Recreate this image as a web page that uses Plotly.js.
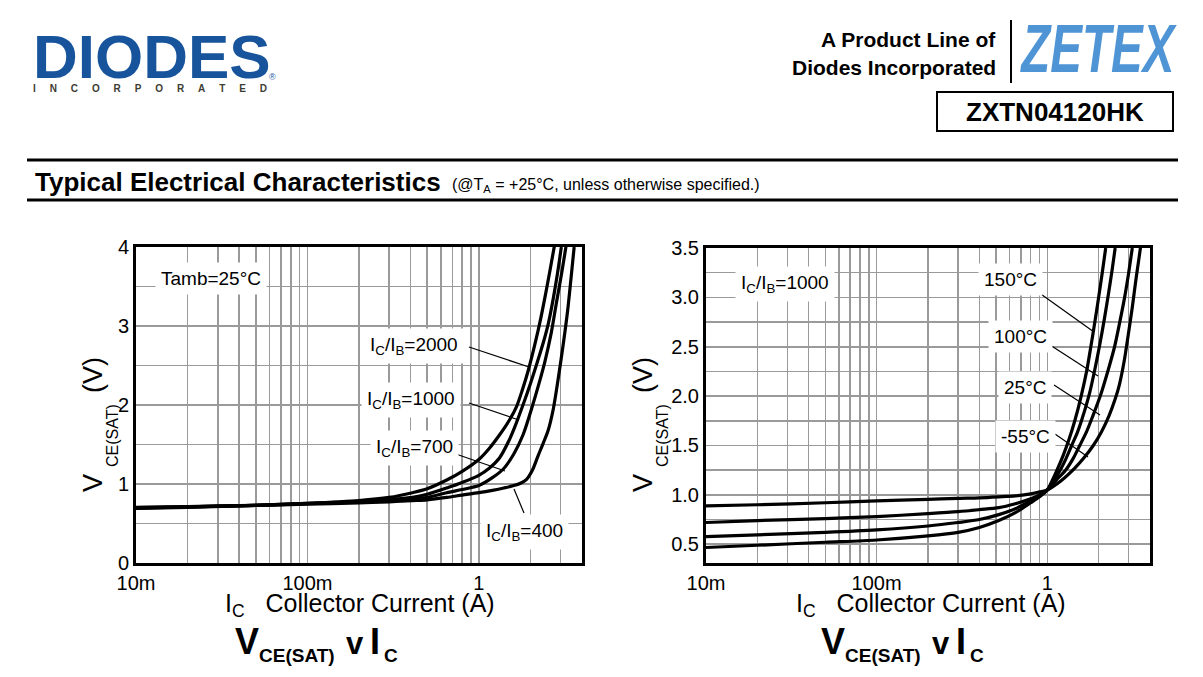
<!DOCTYPE html>
<html>
<head>
<meta charset="utf-8">
<script src="https://cdn.plot.ly/plotly-3.0.1.min.js"></script>
<style>
  html, body { margin: 0; padding: 0; background: #ffffff; }
  #chart { width: 1203px; height: 677px; }
</style>
</head>
<body>
<div id="chart"></div>
<script>
// ---------------- DATA ----------------
// Left chart: VCE(SAT) v IC at Tamb = 25°C for several IC/IB ratios
const ratioNames = ['IC/IB=2000', 'IC/IB=1000', 'IC/IB=700', 'IC/IB=400'];
const icRatio2000 = [0.01, 0.02, 0.05, 0.1, 0.2, 0.3, 0.41, 0.5, 0.65, 0.8, 1.0, 1.15, 1.32, 1.5, 1.66, 1.8, 1.95, 2.12, 2.3, 2.45, 2.6, 2.78];
const vRatio2000  = [0.69, 0.705, 0.73, 0.755, 0.79, 0.83, 0.89, 0.94, 1.05, 1.16, 1.31, 1.45, 1.62, 1.80, 1.98, 2.2, 2.45, 2.76, 3.1, 3.4, 3.7, 4.05];
const icRatio1000 = [0.01, 0.02, 0.05, 0.1, 0.2, 0.3, 0.41, 0.5, 0.65, 0.8, 1.0, 1.15, 1.32, 1.5, 1.62, 1.81, 2.0, 2.2, 2.4, 2.55, 2.72, 2.88, 3.03];
const vRatio1000  = [0.695, 0.71, 0.73, 0.755, 0.78, 0.805, 0.83, 0.87, 0.95, 1.02, 1.11, 1.2, 1.33, 1.55, 1.72, 2.0, 2.27, 2.55, 2.82, 3.04, 3.35, 3.67, 4.0];
const icRatio700  = [0.01, 0.02, 0.05, 0.1, 0.2, 0.3, 0.41, 0.5, 0.65, 0.8, 1.0, 1.2, 1.39, 1.6, 1.81, 2.03, 2.25, 2.43, 2.65, 2.84, 3.05, 3.25];
const vRatio700   = [0.70, 0.71, 0.73, 0.75, 0.77, 0.785, 0.80, 0.83, 0.89, 0.93, 0.98, 1.08, 1.19, 1.38, 1.62, 1.95, 2.28, 2.55, 2.92, 3.3, 3.68, 4.05];
const icRatio400  = [0.01, 0.02, 0.05, 0.1, 0.2, 0.3, 0.41, 0.5, 0.65, 0.8, 1.0, 1.2, 1.4, 1.6, 1.75, 1.9, 2.05, 2.22, 2.38, 2.54, 2.72, 2.9, 3.1, 3.3, 3.45, 3.6];
const vRatio400   = [0.705, 0.715, 0.73, 0.745, 0.76, 0.775, 0.79, 0.80, 0.83, 0.86, 0.89, 0.92, 0.95, 0.98, 1.01, 1.06, 1.17, 1.36, 1.52, 1.68, 1.95, 2.32, 2.75, 3.2, 3.6, 4.0];

// Right chart: VCE(SAT) v IC at IC/IB = 1000 for several temperatures
const tempNames = ['150°C', '100°C', '25°C', '-55°C'];
const icT150 = [0.01, 0.02, 0.05, 0.1, 0.2, 0.3, 0.4, 0.52, 0.65, 0.8, 0.9, 1.0, 1.08, 1.16, 1.24, 1.34, 1.45, 1.58, 1.7, 1.8, 1.9, 2.0, 2.1, 2.2];
const vT150  = [0.467, 0.49, 0.52, 0.543, 0.584, 0.62, 0.67, 0.74, 0.82, 0.92, 0.98, 1.05, 1.16, 1.28, 1.4, 1.56, 1.75, 2.0, 2.25, 2.5, 2.75, 3.0, 3.25, 3.5];
const icT100 = [0.01, 0.02, 0.05, 0.1, 0.2, 0.3, 0.4, 0.52, 0.65, 0.8, 0.9, 1.0, 1.1, 1.19, 1.29, 1.39, 1.5, 1.6, 1.77, 1.9, 2.03, 2.17, 2.3, 2.4, 2.5];
const vT100  = [0.578, 0.595, 0.62, 0.645, 0.685, 0.72, 0.75, 0.80, 0.86, 0.94, 0.99, 1.05, 1.15, 1.25, 1.37, 1.5, 1.63, 1.77, 2.03, 2.27, 2.52, 2.8, 3.07, 3.28, 3.5];
const icT25  = [0.01, 0.02, 0.05, 0.1, 0.2, 0.3, 0.4, 0.52, 0.65, 0.8, 0.9, 1.0, 1.13, 1.28, 1.42, 1.55, 1.7, 1.85, 2.07, 2.28, 2.48, 2.66, 2.84, 3.0, 3.15];
const vT25   = [0.72, 0.74, 0.76, 0.78, 0.81, 0.83, 0.85, 0.87, 0.91, 0.96, 1.0, 1.05, 1.15, 1.25, 1.37, 1.5, 1.64, 1.8, 2.03, 2.27, 2.5, 2.75, 3.0, 3.25, 3.5];
const icTm55 = [0.01, 0.02, 0.05, 0.1, 0.2, 0.3, 0.4, 0.52, 0.65, 0.8, 0.9, 1.0, 1.2, 1.45, 1.65, 1.86, 2.08, 2.3, 2.5, 2.65, 2.82, 2.97, 3.15, 3.32, 3.45, 3.58];
const vTm55  = [0.888, 0.90, 0.92, 0.94, 0.955, 0.965, 0.97, 0.98, 0.99, 1.01, 1.03, 1.05, 1.14, 1.27, 1.38, 1.5, 1.64, 1.8, 1.97, 2.12, 2.35, 2.6, 2.9, 3.2, 3.4, 3.6];

// Axis tick labels and grid values
const xTickVals = [0.01, 0.1, 1];
const xTickText = ['10m', '100m', '1'];
const xMinorGrid = [0.02,0.03,0.04,0.05,0.06,0.07,0.08,0.09,0.2,0.3,0.4,0.5,0.6,0.7,0.8,0.9,2,3];
const yTickLeft = [0, 1, 2, 3, 4];
const yMinorLeft = [0.5, 1.5, 2.5, 3.5];
const yTickRight = [0.5, 1.0, 1.5, 2.0, 2.5, 3.0, 3.5];
const yTextRight = ['0.5', '1.0', '1.5', '2.0', '2.5', '3.0', '3.5'];
const yMinorRight = [0.75, 1.25, 1.75, 2.25, 2.75, 3.25];

// ---------------- LAYOUT HELPERS ----------------
const W = 1203, H = 677;
const px = x => x / W;
const py = y => 1 - y / H;
const FONT = 'Liberation Sans, Arial, Helvetica, sans-serif';
const GRID = '#9a9a9a';

function curve(x, y, xa, ya, name) {
  return { x: x, y: y, xaxis: xa, yaxis: ya, name: name, type: 'scatter', mode: 'lines',
           line: { color: '#000', width: 3.2, shape: 'spline', smoothing: 0.8 }, hoverinfo: 'skip' };
}

const traces = [
  curve(icRatio2000, vRatio2000, 'x', 'y', ratioNames[0]),
  curve(icRatio1000, vRatio1000, 'x', 'y', ratioNames[1]),
  curve(icRatio700,  vRatio700,  'x', 'y', ratioNames[2]),
  curve(icRatio400,  vRatio400,  'x', 'y', ratioNames[3]),
  curve(icT150, vT150, 'x2', 'y2', tempNames[0]),
  curve(icT100, vT100, 'x2', 'y2', tempNames[1]),
  curve(icT25,  vT25,  'x2', 'y2', tempNames[2]),
  curve(icTm55, vTm55, 'x2', 'y2', tempNames[3])
];

function xAxis(domain, anchor) {
  return { type: 'log', domain: domain, anchor: anchor, range: [-2, Math.log10(4)],
           tickmode: 'array', tickvals: xTickVals, ticktext: xTickText,
           minor: { tickmode: 'array', tickvals: xMinorGrid, showgrid: true, gridcolor: GRID, gridwidth: 1.5, ticks: '' },
           showgrid: true, gridcolor: GRID, gridwidth: 1.5, zeroline: false,
           showline: true, linecolor: '#000', linewidth: 3, mirror: true, ticks: '',
           tickfont: { family: FONT, size: 20, color: '#000' }, fixedrange: true };
}
function yAxis(domain, anchor, range, vals, text, minorVals) {
  return { domain: domain, anchor: anchor, range: range,
           tickmode: 'array', tickvals: vals, ticktext: text,
           minor: { tickmode: 'array', tickvals: minorVals, showgrid: true, gridcolor: GRID, gridwidth: 1.5, ticks: '' },
           showgrid: true, gridcolor: GRID, gridwidth: 1.5, zeroline: false,
           showline: true, linecolor: '#000', linewidth: 3, mirror: true, ticks: '',
           tickfont: { family: FONT, size: 20, color: '#000' }, fixedrange: true };
}

function txt(text, x, y, size, opts) {
  return Object.assign({ text: text, xref: 'paper', yref: 'paper', x: px(x), y: py(y),
    showarrow: false, xanchor: 'center', yanchor: 'middle',
    font: { family: FONT, size: size, color: '#000' } }, opts || {});
}
function boxed(text, x, y, size) {
  return txt(text, x - 5, y, size, { xanchor: 'left', bgcolor: '#fff', borderpad: 5 });
}
function seg(x0, y0, x1, y1, w, c) {
  return { type: 'line', xref: 'paper', yref: 'paper', x0: px(x0), y0: py(y0), x1: px(x1), y1: py(y1),
           line: { color: c || '#000', width: w || 1.2 } };
}

const NB = '\u00a0';
const ann = [];
// Header: DIODES logo
ann.push(txt('DIODES', 152, 56, 62, { font: { family: FONT, size: 62, color: '#17549c', weight: 'bold' } }));
ann.push(txt('INCORPORATED'.split('').join(NB.repeat(5)), 150, 89, 10,
  { font: { family: FONT, size: 10, color: '#3d3d33', weight: 'bold' } }));
ann.push(txt('®', 272, 77, 9, { font: { family: FONT, size: 9, color: '#17549c' } }));
// Header right
ann.push(txt('<b>A Product Line of</b>', 998, 39, 21, { xanchor: 'right' }));
ann.push(txt('<b>Diodes Incorporated</b>', 998, 67, 21, { xanchor: 'right' }));
ann.push(txt('<b><i>ZETEX</i></b>', 1098, 48, 68, { name: 'zetex',
  font: { family: FONT, size: 68, color: '#4f95d6' } }));
ann.push(txt('<b>ZXTN04120HK</b>', 1055, 112, 26));
// Section title
ann.push(txt('<b>Typical Electrical Characteristics</b>', 33, 182, 26, { xanchor: 'left' }));
ann.push(txt('(@T<sub>A</sub> = +25°C, unless otherwise specified.)', 450, 185, 16, { xanchor: 'left' }));

// Left chart labels
ann.push(boxed('Tamb=25°C', 160, 278, 19));
ann.push(boxed('I<sub>C</sub>/I<sub>B</sub>=2000', 369, 346, 19));
ann.push(boxed('I<sub>C</sub>/I<sub>B</sub>=1000', 366, 400, 19));
ann.push(boxed('I<sub>C</sub>/I<sub>B</sub>=700', 375, 448, 19));
ann.push(boxed('I<sub>C</sub>/I<sub>B</sub>=400', 485, 532, 19));
// Right chart labels
ann.push(boxed('I<sub>C</sub>/I<sub>B</sub>=1000', 740, 284, 19));
ann.push(boxed('150°C', 983, 279, 19));
ann.push(boxed('100°C', 993, 336, 19));
ann.push(boxed('25°C', 1003, 387, 19));
ann.push(boxed('-55°C', 1000, 436, 19));

// Axis titles (built from pieces for exact sub-script sizing)
function yTitle(xc) {
  ann.push(txt('V', xc, 483, 27, { textangle: -90 }));
  ann.push(txt('CE(SAT)', xc + 19, 436, 16, { textangle: -90 }));
  ann.push(txt('(V)', xc, 375, 27, { textangle: -90 }));
}
yTitle(93);
yTitle(643);
ann.push(txt('I<sub>C</sub>' + NB.repeat(3) + 'Collector Current (A)', 360, 605, 25));
ann.push(txt('I<sub>C</sub>' + NB.repeat(3) + 'Collector Current (A)', 931, 605, 25));
// Captions
function caption(x0) {
  ann.push(txt('<b>V</b>', x0, 641, 36, { xanchor: 'left' }));
  ann.push(txt('<b>CE(SAT)</b>', x0 + 24, 655, 19, { xanchor: 'left' }));
  ann.push(txt('<b>v</b>', x0 + 111, 643, 31, { xanchor: 'left' }));
  ann.push(txt('<b>I</b>', x0 + 135, 641, 36, { xanchor: 'left' }));
  ann.push(txt('<b>C</b>', x0 + 149, 655, 19, { xanchor: 'left' }));
}
caption(233);
caption(819);

const shapes = [
  seg(27, 160, 1178, 160, 3),
  seg(27, 200, 1178, 200, 3),
  seg(1011, 20, 1011, 83, 2),
  { type: 'rect', xref: 'paper', yref: 'paper', x0: px(937), x1: px(1173), y0: py(92), y1: py(131),
    line: { color: '#000', width: 2 }, fillcolor: 'rgba(0,0,0,0)' },
  // leader lines left chart
  seg(469, 347, 529, 367),
  seg(469, 403, 519, 420),
  seg(453, 453, 505, 471),
  seg(524, 513, 514, 489),
  // leader lines right chart
  seg(1038, 292, 1094, 332),
  seg(1047, 343, 1098, 376),
  seg(1054, 385, 1100, 415),
  seg(1055, 434, 1088, 457)
];

const layout = {
  width: W, height: H, margin: { l: 0, r: 0, t: 0, b: 0 },
  paper_bgcolor: '#fff', plot_bgcolor: '#fff', showlegend: false,
  font: { family: FONT, color: '#000' },
  xaxis: xAxis([px(136), px(582)], 'y'),
  yaxis: yAxis([py(563), py(247)], 'x', [0, 4], yTickLeft, yTickLeft.map(String), yMinorLeft),
  xaxis2: xAxis([px(706), px(1150)], 'y2'),
  yaxis2: yAxis([py(563), py(248)], 'x2', [0.31, 3.5], yTickRight, yTextRight, yMinorRight),
  annotations: ann,
  shapes: shapes
};

Plotly.newPlot('chart', traces, layout, { staticPlot: true, displayModeBar: false }).then(gd => {
  // Condense the ZETEX wordmark horizontally to the logo's narrow proportions
  gd.querySelectorAll('.annotation-text').forEach(t => {
    if (t.textContent === 'ZETEX') {
      const b = t.getBBox();
      const cx = b.x + b.width / 2, cy = b.y + b.height / 2;
      const sx = 157 / b.width;
      t.setAttribute('transform', 'translate(' + cx + ',' + cy + ') scale(' + sx + ',1) translate(' + (-cx) + ',' + (-cy) + ')');
    }
  });
});
</script>
</body>
</html>
